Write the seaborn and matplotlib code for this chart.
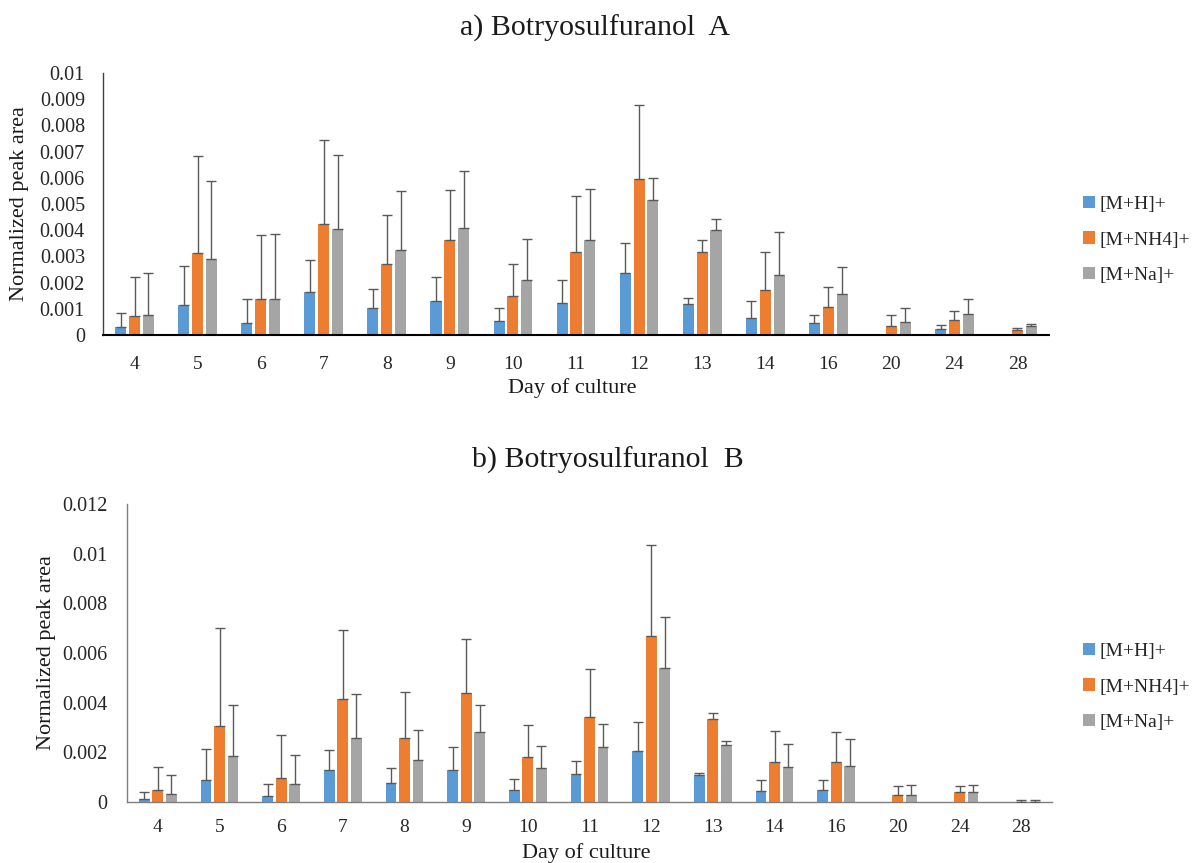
import numpy as np
import pandas as pd
import matplotlib
matplotlib.use("Agg")
import matplotlib.pyplot as plt
import seaborn as sns

days = ["4", "5", "6", "7", "8", "9", "10", "11", "12", "13", "14", "16", "20", "24", "28"]
ions = ["[M+H]+", "[M+NH4]+", "[M+Na]+"]
colors = ["#5B9BD5", "#ED7D31", "#A5A5A5"]

# a) Botryosulfuranol A
mh_A = [0.00029, 0.00115, 0.00045, 0.00164, 0.00103, 0.00131, 0.00052, 0.00122, 0.00237, 0.00118, 0.00065, 0.00045, 0, 0.00024, 0]
mh_A_sd = [0.00054, 0.0015, 0.00093, 0.00121, 0.00072, 0.00089, 0.0005, 0.00087, 0.00115, 0.00025, 0.00065, 0.00031, 0, 0.00016, 0]
nh4_A = [0.00074, 0.00312, 0.00136, 0.00423, 0.00271, 0.00364, 0.00148, 0.00318, 0.00595, 0.00316, 0.00172, 0.00107, 0.00033, 0.00057, 0.0002]
nh4_A_sd = [0.00146, 0.00371, 0.00245, 0.00322, 0.00188, 0.00189, 0.00122, 0.00214, 0.00283, 0.00047, 0.00143, 0.00075, 0.00043, 0.00036, 0.00007]
na_A = [0.00076, 0.0029, 0.00136, 0.00405, 0.00324, 0.00409, 0.00209, 0.00364, 0.00516, 0.00401, 0.00229, 0.00155, 0.00048, 0.00082, 0.00033]
na_A_sd = [0.0016, 0.00299, 0.00249, 0.00282, 0.00224, 0.00218, 0.00159, 0.00193, 0.00083, 0.00041, 0.00163, 0.00106, 0.00056, 0.00056, 0.0001]

# b) Botryosulfuranol B
mh_B = [0.00012, 0.0009, 0.00023, 0.00127, 0.00075, 0.00127, 0.0005, 0.00111, 0.00204, 0.00107, 0.00043, 0.00047, 0, 0, 0]
mh_B_sd = [0.0003, 0.00124, 0.00051, 0.00081, 0.0006, 0.00093, 0.00044, 0.00055, 0.00118, 0.00008, 0.00047, 0.00043, 0, 0, 0]
nh4_B = [0.00047, 0.00308, 0.00097, 0.00413, 0.00257, 0.00437, 0.0018, 0.00344, 0.0067, 0.00334, 0.00161, 0.00161, 0.0003, 0.00039, 0.00002]
nh4_B_sd = [0.00095, 0.00392, 0.00172, 0.0028, 0.00184, 0.0022, 0.00131, 0.0019, 0.00365, 0.00024, 0.00126, 0.00121, 0.00036, 0.00027, 0.00008]
na_B = [0.00034, 0.00184, 0.00071, 0.00256, 0.00168, 0.00281, 0.00137, 0.0022, 0.00539, 0.00231, 0.00141, 0.00143, 0.0003, 0.0004, 0.00002]
na_B_sd = [0.00076, 0.00205, 0.00117, 0.0018, 0.00123, 0.00108, 0.00087, 0.00096, 0.00206, 0.00013, 0.00092, 0.00112, 0.0004, 0.0003, 0.00008]

sns.set_theme(style="white")
plt.rcParams["font.family"] = ["Liberation Serif", "DejaVu Serif"]

fig = plt.figure(figsize=(11.92, 8.63), dpi=100)
axA = fig.add_axes([103/1192, 1-335/863, (1049-103)/1192, (335-73)/863])
axB = fig.add_axes([127/1192, 1-802/863, (1052-127)/1192, (802-504)/863])


def draw(ax, means, sds, ymax, yticks, spine_col, xspine_col, xspine_lw, title, title_x, title_y,
         ylab_x, xlab_y, legend_y, ytick_pad, xtick_pad):
    rows = []
    for ion, vals in zip(ions, means):
        for d, v in zip(days, vals):
            rows.append({"day": d, "ion": ion, "value": v})
    df = pd.DataFrame(rows)
    sns.barplot(data=df, x="day", y="value", hue="ion", order=days, hue_order=ions,
                palette=colors, saturation=1, width=0.66, gap=0.2, errorbar=None,
                linewidth=0, ax=ax)
    for cont, vals, sd in zip(ax.containers, means, sds):
        xs, ys, es = [], [], []
        for patch, v, s in zip(cont.patches, vals, sd):
            if v > 0:
                xs.append(patch.get_x() + patch.get_width() / 2)
                ys.append(v)
                es.append(s)
        ax.errorbar(xs, ys, yerr=[np.zeros(len(es)), es], fmt="none",
                    ecolor="#595959", elinewidth=1.0, capsize=3.6, capthick=1.0, zorder=3)
    ax.set_xlim(-0.5, len(days) - 0.5)
    ax.set_ylim(0, ymax)
    ax.set_yticks(yticks)
    ax.set_yticklabels([f"{t:g}" for t in yticks])
    ax.tick_params(axis="y", length=0, pad=ytick_pad, labelsize=14.5, colors="#262626")
    ax.tick_params(axis="x", length=0, pad=xtick_pad, labelsize=14, colors="#262626")
    for s in ["top", "right"]:
        ax.spines[s].set_visible(False)
    ax.spines["left"].set_color(spine_col)
    ax.spines["left"].set_linewidth(1.0)
    ax.spines["bottom"].set_color(xspine_col)
    ax.spines["bottom"].set_linewidth(xspine_lw)
    ax.set_xlabel("")
    ax.set_ylabel("")
    pos = ax.get_position()
    fig.text(title_x, title_y, title, ha="center", va="center",
             fontsize=21.5, color="#1a1a1a")
    fig.text(ylab_x, 0.5 * (pos.y0 + pos.y1), "Normalized peak area", rotation=90,
             ha="center", va="center", fontsize=16, color="#1a1a1a")
    fig.text(0.5 * (pos.x0 + pos.x1) - 0.003, xlab_y, "Day of culture", ha="center", va="center",
             fontsize=16, color="#1a1a1a")
    handles, labels = ax.get_legend_handles_labels()
    ax.legend(handles, labels, loc="center left", bbox_to_anchor=(1083/1192, legend_y),
              bbox_transform=fig.transFigure, frameon=False, fontsize=14,
              borderpad=0, borderaxespad=0,
              handlelength=0.6, handleheight=0.6, handletextpad=0.25, labelspacing=0.95)


draw(axA, [mh_A, nh4_A, na_A], [mh_A_sd, nh4_A_sd, na_A_sd], 0.01,
     np.round(np.arange(0, 0.0101, 0.001), 3), "#404040", "#000000", 1.5,
     "a) Botryosulfuranol  A", 595/1192, 1 - 28/863, 20/1192, 1 - 388/863, 1 - 240/863, 13, 15)
draw(axB, [mh_B, nh4_B, na_B], [mh_B_sd, nh4_B_sd, na_B_sd], 0.012,
     np.round(np.arange(0, 0.0121, 0.002), 3), "#7f7f7f", "#7f7f7f", 1.0,
     "b) Botryosulfuranol  B", 608/1192, 1 - 460/863, 47/1192, 1 - 853/863, 1 - 687/863, 14, 12)

fig.savefig("out.png", dpi=100)
